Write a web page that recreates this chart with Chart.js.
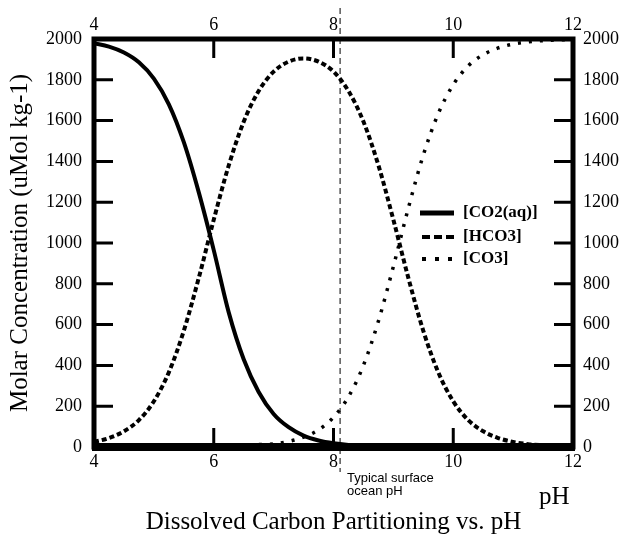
<!DOCTYPE html>
<html>
<head>
<meta charset="utf-8">
<script src="https://cdn.jsdelivr.net/npm/chart.js@4.4.1/dist/chart.umd.min.js"></script>
<style>
  html, body { margin: 0; padding: 0; background: #fff; }
  #wrap { width: 621px; height: 538px; }
</style>
</head>
<body>
<div id="wrap"><canvas id="carbonChart" width="621" height="538"></canvas></div>
<script>
// pH grid and concentrations (uMol/kg) for each species
const phValues = [4, 4.25, 4.5, 4.75, 5, 5.25, 5.5, 5.75, 6, 6.25, 6.5, 6.75, 7, 7.25, 7.5, 7.75,
                  8, 8.25, 8.5, 8.75, 9, 9.25, 9.5, 9.75, 10, 10.25, 10.5, 10.75, 11, 11.25, 11.5, 11.75, 12];
const co2Values = [1979, 1963, 1934, 1886, 1806, 1680, 1494, 1248, 965, 660, 430, 270, 162, 97, 56, 32,
                   18, 10, 6, 3, 2, 0, 0, 0, 0, 0, 0, 0, 0, 0, 0, 0, 0];
const hco3Values = [25, 44, 77, 132, 224, 366, 570, 829, 1114, 1380, 1594, 1745, 1840, 1889, 1905, 1889,
                    1840, 1745, 1595, 1381, 1114, 829, 569, 366, 224, 132, 77, 44, 25, 14, 8, 4, 3];
const co3Values = [0, 0, 0, 0, 0, 0, 0, 0, 1, 3, 6, 12, 15, 27, 48, 84,
                   146, 246, 400, 617, 885, 1171, 1431, 1634, 1776, 1868, 1923, 1956, 1975, 1986, 1992, 1996, 1997];
const seriesLabels = ['[CO2(aq)]', '[HCO3]', '[CO3]'];
const xTicks = [4, 6, 8, 10, 12];
const surfacePH = 8.11;

const serif = 'Liberation Serif, Times New Roman, serif';

function points(values) {
  return phValues.map((ph, i) => ({ x: ph, y: values[i] }));
}

// thick frame, inward tick marks, legend and notes
const frame = {
  id: 'frame',
  afterDatasetsDraw(chart) {
    const { ctx, chartArea: a, scales } = chart;
    ctx.save();
    ctx.strokeStyle = '#000';
    ctx.fillStyle = '#000';

    // typical surface ocean pH marker
    const px = scales.x.getPixelForValue(surfacePH);
    ctx.lineWidth = 1;
    ctx.setLineDash([6, 4]);
    ctx.beginPath();
    ctx.moveTo(px, 8);
    ctx.lineTo(px, 472);
    ctx.stroke();
    ctx.setLineDash([]);

    // tick marks pointing into the plot
    ctx.lineWidth = 3;
    ctx.beginPath();
    scales.y.ticks.forEach(t => {
      const py = scales.y.getPixelForValue(t.value);
      ctx.moveTo(a.left, py); ctx.lineTo(a.left + 19, py);
      ctx.moveTo(a.right, py); ctx.lineTo(a.right - 19, py);
    });
    xTicks.slice(1, -1).forEach(v => {
      const x = scales.x.getPixelForValue(v);
      ctx.moveTo(x, a.top); ctx.lineTo(x, a.top + 19);
      ctx.moveTo(x, a.bottom); ctx.lineTo(x, a.bottom - 19);
    });
    ctx.stroke();

    // frame
    ctx.lineWidth = 5;
    ctx.strokeRect(a.left, a.top, a.right - a.left, a.bottom - a.top);
    ctx.lineWidth = 8;
    ctx.beginPath();
    ctx.moveTo(a.left - 2, a.bottom);
    ctx.lineTo(a.right + 2, a.bottom);
    ctx.stroke();

    // legend
    const rows = [213, 237, 259];
    chart.data.datasets.forEach((ds, i) => {
      const y = rows[i];
      ctx.lineWidth = i === 0 ? 5 : 4;
      ctx.setLineDash(i === 0 ? [] : i === 1 ? [8, 4] : [4, 9]);
      ctx.beginPath();
      ctx.moveTo(i === 0 ? 420 : 422, y);
      ctx.lineTo(454, y);
      ctx.stroke();
      ctx.setLineDash([]);
      ctx.font = 'bold 17px ' + serif;
      ctx.textBaseline = 'middle';
      ctx.textAlign = 'left';
      ctx.fillText(ds.label, 463, y);
    });

    // axis note and unit
    ctx.font = '25px ' + serif;
    ctx.fillText('pH', 539, 497);
    ctx.font = '13px Liberation Sans, Arial, sans-serif';
    ctx.fillText('Typical surface', 347, 478);
    ctx.fillText('ocean pH', 347, 491);
    ctx.restore();
  }
};

const tickFont = { family: serif, size: 18 };
const plain = v => String(v);

new Chart(document.getElementById('carbonChart').getContext('2d'), {
  type: 'line',
  data: {
    datasets: [
      {
        label: seriesLabels[0],
        data: points(co2Values),
        borderColor: '#000',
        borderWidth: 4,
        pointRadius: 0,
        cubicInterpolationMode: 'monotone'
      },
      {
        label: seriesLabels[1],
        data: points(hco3Values),
        borderColor: '#000',
        borderWidth: 4,
        borderDash: [5, 3],
        pointRadius: 0,
        cubicInterpolationMode: 'monotone'
      },
      {
        label: seriesLabels[2],
        data: points(co3Values),
        borderColor: '#000',
        borderWidth: 3.5,
        borderDash: [3, 8],
        pointRadius: 0,
        cubicInterpolationMode: 'monotone'
      }
    ]
  },
  options: {
    responsive: false,
    animation: false,
    devicePixelRatio: 1,
    layout: { padding: 0 },
    plugins: {
      legend: { display: false },
      tooltip: { enabled: false }
    },
    scales: {
      x: {
        type: 'linear', position: 'bottom', min: 4, max: 12,
        afterBuildTicks: s => { s.ticks = xTicks.map(v => ({ value: v })); },
        ticks: { color: '#000', font: tickFont, padding: 4, callback: plain },
        grid: { display: false, drawTicks: false },
        border: { display: false },
        title: {
          display: true,
          text: 'Dissolved Carbon Partitioning vs. pH',
          color: '#000',
          font: { family: serif, size: 25 },
          padding: { top: 0, bottom: 1 }
        },
        afterFit: s => { s.height = 91; }
      },
      x2: {
        type: 'linear', position: 'top', min: 4, max: 12,
        afterBuildTicks: s => { s.ticks = xTicks.map(v => ({ value: v })); },
        ticks: { color: '#000', font: tickFont, padding: 3, callback: plain },
        grid: { display: false, drawTicks: false },
        border: { display: false },
        afterFit: s => { s.height = 39; }
      },
      y: {
        type: 'linear', position: 'left', min: 0, max: 2000,
        ticks: { stepSize: 200, color: '#000', font: tickFont, padding: 12, callback: plain },
        grid: { display: false, drawTicks: false },
        border: { display: false },
        title: {
          display: true,
          text: 'Molar Concentration (uMol kg-1)',
          color: '#000',
          font: { family: serif, size: 25 },
          padding: { top: 5, bottom: 0 }
        },
        afterFit: s => { s.width = 94; }
      },
      y2: {
        type: 'linear', position: 'right', min: 0, max: 2000,
        ticks: { stepSize: 200, color: '#000', font: tickFont, padding: 10, callback: plain },
        grid: { display: false, drawTicks: false },
        border: { display: false },
        afterFit: s => { s.width = 48; }
      }
    }
  },
  plugins: [frame]
});
</script>
</body>
</html>
